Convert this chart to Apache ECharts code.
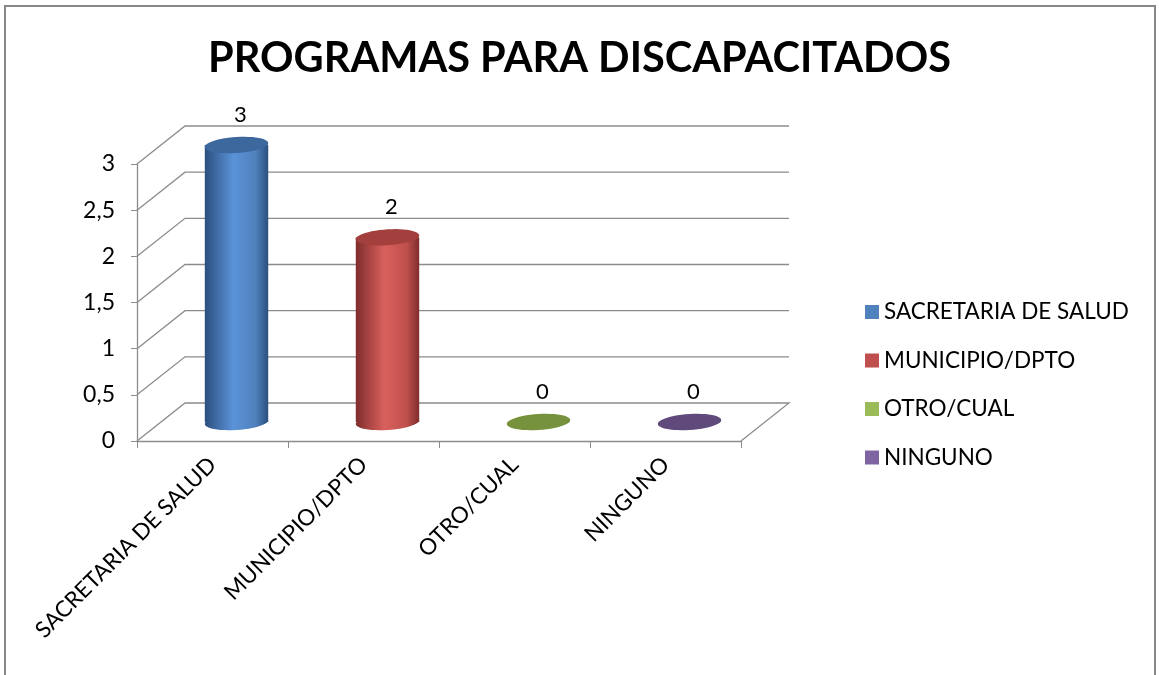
<!DOCTYPE html>
<html>
<head>
<meta charset="utf-8">
<script src="https://cdn.jsdelivr.net/npm/echarts@6/dist/echarts.min.js"></script>
<style>
  html, body { margin: 0; padding: 0; background: #fff; }
  #main { width: 1159px; height: 675px; }
</style>
</head>
<body>
<div id="main"></div>
<script>
// datos del grafico
var categorias = ['SACRETARIA DE SALUD', 'MUNICIPIO/DPTO', 'OTRO/CUAL', 'NINGUNO'];
var valores = [3, 2, 0, 0];
var marcasY = [0, 0.5, 1, 1.5, 2, 2.5, 3];
var colores = ['#4F81BD', '#C0504D', '#9BBB59', '#8064A2'];
// tonos para el cilindro: borde oscuro, brillo, tapa
var tonos = [
    { dark: '#2B4F7E', light: '#5B93D8', cap: '#3D689E', flat: '#3D689E' },
    { dark: '#7E2E2C', light: '#D9605C', cap: '#A33F3C', flat: '#A33F3C' },
    { dark: '#5A6E2F', light: '#A6C665', cap: '#76923C', flat: '#76923C' },
    { dark: '#4A3A62', light: '#8A70AE', cap: '#5F4A7B', flat: '#5F4A7B' }
];
var DX = 48, DY = -38; // profundidad del efecto 3D

var myChart = echarts.init(document.getElementById('main'));

function elipse(cx, cy, rx, ry) {
    var pts = [];
    for (var i = 0; i < 48; i++) {
        var a = i / 48 * Math.PI * 2;
        var x = Math.cos(a) * rx, y = Math.sin(a) * ry;
        // leve inclinacion como en excel
        pts.push([cx + x, cy + y - x * 0.06]);
    }
    return pts;
}

function cilindro(idx) {
    return function (params, api) {
        var cat = api.value(0), val = api.value(1);
        var top = api.coord([cat, val]);
        var base = api.coord([cat, 0]);
        var bw = api.size([1, 0])[0] * 0.42;
        var cx = top[0] + DX / 2, ty = top[1] + DY / 2, by = base[1] + DY / 2;
        var rx = bw / 2, ry = 8;
        var t = tonos[idx];
        var children = [];
        if (val > 0) {
            var grad = new echarts.graphic.LinearGradient(0, 0, 1, 0, [
                { offset: 0, color: t.dark },
                { offset: 0.45, color: t.light },
                { offset: 0.8, color: colores[idx] },
                { offset: 1, color: t.dark }
            ]);
            children.push({ type: 'polygon', shape: { points: elipse(cx, by, rx, ry) }, style: { fill: grad } });
            children.push({ type: 'rect', shape: { x: cx - rx, y: ty, width: rx * 2, height: by - ty }, style: { fill: grad } });
            children.push({ type: 'polygon', shape: { points: elipse(cx, ty, rx, ry) }, style: { fill: t.cap } });
        } else {
            children.push({ type: 'polygon', shape: { points: elipse(cx, by, rx, ry) }, style: { fill: t.flat } });
        }
        children.push({
            type: 'text',
            style: {
                text: String(val), x: cx + 4, y: ty - 30,
                align: 'center', verticalAlign: 'middle',
                font: '22px Lato', fill: '#000'
            }
        });
        return { type: 'group', children: children };
    };
}

function pared(params, api) {
    var v = api.value(0);
    var cs = params.coordSys;
    var p = api.coord([0, v]);
    var x0 = cs.x, x1 = cs.x + cs.width, y = p[1];
    var pts = [[x0, y], [x0 + DX, y + DY], [x1 + DX, y + DY]];
    if (v === 0) {
        pts.push([x1, y]);
    }
    return {
        type: 'polyline',
        shape: { points: pts },
        style: { stroke: '#8C8C8C', lineWidth: 1.3, fill: null }
    };
}

var series = [{
    type: 'custom',
    name: 'pared',
    renderItem: pared,
    data: marcasY.map(function (v) { return [v]; }),
    encode: { y: 0 },
    silent: true,
    z: 1
}];
for (var i = 0; i < categorias.length; i++) {
    series.push({
        type: 'custom',
        name: categorias[i],
        color: colores[i],
        renderItem: cilindro(i),
        data: [[i, valores[i]]],
        encode: { x: 0, y: 1 },
        z: 5
    });
}

var option = {
    backgroundColor: '#fff',
    animation: false,
    title: {
        text: 'PROGRAMAS PARA DISCAPACITADOS',
        left: 'center',
        top: 33,
        textStyle: { fontFamily: 'Lato', fontWeight: 'bold', fontSize: 41.5, color: '#000' }
    },
    graphic: [{
        type: 'rect',
        shape: { x: 5, y: 6, width: 1150, height: 700 },
        style: { fill: null, stroke: '#888888', lineWidth: 2 }
    }],
    legend: {
        data: categorias,
        orient: 'vertical',
        left: 860,
        top: 295,
        icon: 'rect',
        itemWidth: 14,
        itemHeight: 14,
        itemGap: 24.5,
        textStyle: { fontFamily: 'Lato', fontSize: 22.5, lineHeight: 24, color: '#000' }
    },
    grid: { left: 137, top: 164, width: 604, height: 277 },
    xAxis: {
        type: 'category',
        data: categorias,
        axisLine: { lineStyle: { color: '#8C8C8C', width: 1.3 } },
        axisTick: { show: true, length: 7, lineStyle: { color: '#8C8C8C' } },
        axisLabel: { rotate: 45, margin: 20, fontFamily: 'Lato', fontSize: 22.5, color: '#000' }
    },
    yAxis: {
        type: 'value',
        min: 0, max: 3, interval: 0.5,
        axisLine: { show: true, lineStyle: { color: '#8C8C8C', width: 1.3 } },
        axisTick: { show: true, length: 6, lineStyle: { color: '#8C8C8C' } },
        splitLine: { show: false },
        axisLabel: {
            margin: 22, fontFamily: 'Lato', fontSize: 23, color: '#000',
            formatter: function (v) { return String(v).replace('.', ','); }
        }
    },
    series: series
};
myChart.setOption(option);
window.addEventListener('resize', function () {
    myChart.resize();
});
</script>
</body>
</html>
